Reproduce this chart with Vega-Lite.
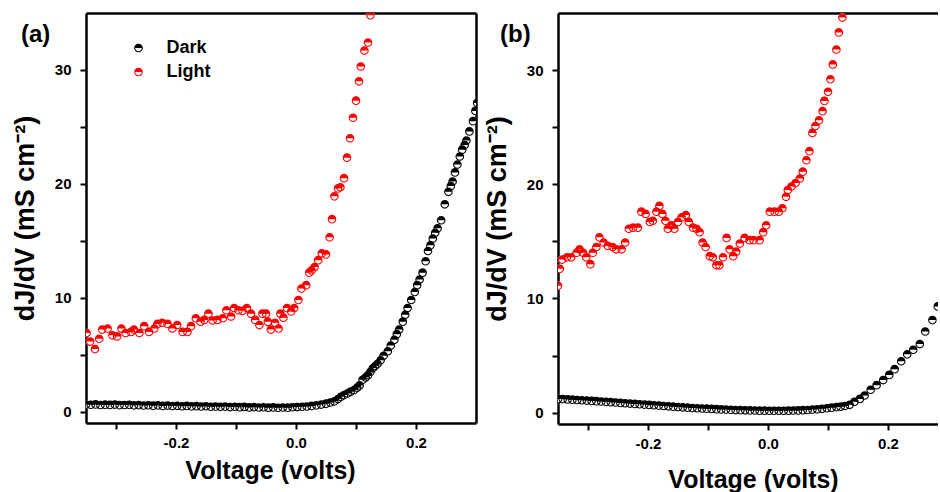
{
  "$schema": "https://vega.github.io/schema/vega-lite/v6.json",
  "padding": {"left": 11, "top": 13, "right": 0, "bottom": 0},
  "background": "white",
  "config": {
    "font": "Liberation Sans",
    "view": {"stroke": null},
    "axis": {"grid": false, "domainColor": "#000", "domainWidth": 2.5, "tickColor": "#000", "tickWidth": 2, "tickSize": 6, "labelColor": "#000", "labelFontSize": 15, "labelFontWeight": "bold", "labelPadding": 6, "titleColor": "#000", "titleFontWeight": "bold", "labelFlush": false, "labelOverlap": false},
    "axisX": {"titleFontSize": 25, "titlePadding": 8},
    "axisY": {"titleFontSize": 27, "titlePadding": 15, "labelPadding": 9},
    "legend": {"orient": "none", "title": null, "padding": 0, "labelFontSize": 18, "labelFontWeight": "bold", "labelColor": "#000", "symbolSize": 75, "symbolStrokeWidth": 0, "rowPadding": 6},
    "title": {"fontSize": 24, "fontWeight": "bold", "color": "#000", "anchor": "start", "frame": "group", "offset": 0}
  },
  "datasets": {
    "a": [
      {"s":"Dark","v":-0.350,"g":0.62},{"s":"Dark","v":-0.342,"g":0.60},{"s":"Dark","v":-0.334,"g":0.63},{"s":"Dark","v":-0.326,"g":0.58},{"s":"Dark","v":-0.318,"g":0.61},{"s":"Dark","v":-0.310,"g":0.59},{"s":"Dark","v":-0.302,"g":0.62},{"s":"Dark","v":-0.294,"g":0.57},{"s":"Dark","v":-0.286,"g":0.58},{"s":"Dark","v":-0.278,"g":0.60},{"s":"Dark","v":-0.270,"g":0.55},{"s":"Dark","v":-0.262,"g":0.57},{"s":"Dark","v":-0.254,"g":0.54},{"s":"Dark","v":-0.246,"g":0.56},{"s":"Dark","v":-0.238,"g":0.52},{"s":"Dark","v":-0.230,"g":0.55},{"s":"Dark","v":-0.222,"g":0.50},{"s":"Dark","v":-0.214,"g":0.53},{"s":"Dark","v":-0.206,"g":0.49},{"s":"Dark","v":-0.198,"g":0.51},{"s":"Dark","v":-0.190,"g":0.47},{"s":"Dark","v":-0.182,"g":0.50},{"s":"Dark","v":-0.174,"g":0.46},{"s":"Dark","v":-0.166,"g":0.48},{"s":"Dark","v":-0.158,"g":0.45},{"s":"Dark","v":-0.150,"g":0.47},{"s":"Dark","v":-0.142,"g":0.43},{"s":"Dark","v":-0.134,"g":0.45},{"s":"Dark","v":-0.126,"g":0.42},{"s":"Dark","v":-0.118,"g":0.44},{"s":"Dark","v":-0.110,"g":0.40},{"s":"Dark","v":-0.102,"g":0.43},{"s":"Dark","v":-0.094,"g":0.39},{"s":"Dark","v":-0.086,"g":0.41},{"s":"Dark","v":-0.078,"g":0.37},{"s":"Dark","v":-0.070,"g":0.40},{"s":"Dark","v":-0.062,"g":0.36},{"s":"Dark","v":-0.054,"g":0.38},{"s":"Dark","v":-0.046,"g":0.35},{"s":"Dark","v":-0.038,"g":0.37},{"s":"Dark","v":-0.030,"g":0.34},{"s":"Dark","v":-0.022,"g":0.36},{"s":"Dark","v":-0.014,"g":0.35},{"s":"Dark","v":-0.006,"g":0.38},{"s":"Dark","v":0.002,"g":0.40},{"s":"Dark","v":0.010,"g":0.43},{"s":"Dark","v":0.018,"g":0.45},{"s":"Dark","v":0.026,"g":0.50},{"s":"Dark","v":0.034,"g":0.55},{"s":"Dark","v":0.042,"g":0.62},{"s":"Dark","v":0.050,"g":0.70},{"s":"Dark","v":0.057,"g":0.80},{"s":"Dark","v":0.064,"g":0.9},{"s":"Dark","v":0.070,"g":1.1},{"s":"Dark","v":0.075,"g":1.3},{"s":"Dark","v":0.080,"g":1.45},{"s":"Dark","v":0.086,"g":1.6},{"s":"Dark","v":0.091,"g":1.75},{"s":"Dark","v":0.097,"g":1.9},{"s":"Dark","v":0.102,"g":2.1},{"s":"Dark","v":0.106,"g":2.3},{"s":"Dark","v":0.111,"g":2.8},{"s":"Dark","v":0.116,"g":3.0},{"s":"Dark","v":0.120,"g":3.2},{"s":"Dark","v":0.124,"g":3.5},{"s":"Dark","v":0.128,"g":3.8},{"s":"Dark","v":0.132,"g":4.0},{"s":"Dark","v":0.136,"g":4.2},{"s":"Dark","v":0.141,"g":4.5},{"s":"Dark","v":0.146,"g":4.9},{"s":"Dark","v":0.153,"g":5.3},{"s":"Dark","v":0.158,"g":5.8},{"s":"Dark","v":0.164,"g":6.3},{"s":"Dark","v":0.168,"g":6.8},{"s":"Dark","v":0.172,"g":7.2},{"s":"Dark","v":0.178,"g":7.9},{"s":"Dark","v":0.182,"g":8.5},{"s":"Dark","v":0.186,"g":9.1},{"s":"Dark","v":0.192,"g":9.8},{"s":"Dark","v":0.198,"g":10.5},{"s":"Dark","v":0.202,"g":11.1},{"s":"Dark","v":0.206,"g":11.6},{"s":"Dark","v":0.211,"g":12.2},{"s":"Dark","v":0.216,"g":13.2},{"s":"Dark","v":0.220,"g":14.1},{"s":"Dark","v":0.224,"g":14.6},{"s":"Dark","v":0.228,"g":15.2},{"s":"Dark","v":0.232,"g":15.7},{"s":"Dark","v":0.236,"g":16.1},{"s":"Dark","v":0.242,"g":16.8},{"s":"Dark","v":0.248,"g":18.2},{"s":"Dark","v":0.254,"g":19.3},{"s":"Dark","v":0.258,"g":19.8},{"s":"Dark","v":0.261,"g":20.2},{"s":"Dark","v":0.265,"g":21.0},{"s":"Dark","v":0.269,"g":21.7},{"s":"Dark","v":0.273,"g":22.4},{"s":"Dark","v":0.277,"g":23.0},{"s":"Dark","v":0.281,"g":23.4},{"s":"Dark","v":0.284,"g":23.8},{"s":"Dark","v":0.289,"g":24.6},{"s":"Dark","v":0.295,"g":25.5},{"s":"Dark","v":0.299,"g":26.4},{"s":"Dark","v":0.302,"g":27.1},
      {"s":"Light","v":-0.349,"g":6.9},{"s":"Light","v":-0.343,"g":6.15},{"s":"Light","v":-0.335,"g":5.5},{"s":"Light","v":-0.328,"g":6.4},{"s":"Light","v":-0.323,"g":7.2},{"s":"Light","v":-0.314,"g":7.3},{"s":"Light","v":-0.306,"g":6.7},{"s":"Light","v":-0.298,"g":6.6},{"s":"Light","v":-0.291,"g":7.3},{"s":"Light","v":-0.284,"g":6.9},{"s":"Light","v":-0.275,"g":7.0},{"s":"Light","v":-0.270,"g":7.2},{"s":"Light","v":-0.261,"g":6.9},{"s":"Light","v":-0.253,"g":7.5},{"s":"Light","v":-0.245,"g":7.0},{"s":"Light","v":-0.236,"g":7.3},{"s":"Light","v":-0.231,"g":7.7},{"s":"Light","v":-0.223,"g":7.8},{"s":"Light","v":-0.214,"g":7.7},{"s":"Light","v":-0.206,"g":7.3},{"s":"Light","v":-0.198,"g":7.6},{"s":"Light","v":-0.189,"g":7.0},{"s":"Light","v":-0.181,"g":7.0},{"s":"Light","v":-0.175,"g":7.5},{"s":"Light","v":-0.167,"g":8.2},{"s":"Light","v":-0.159,"g":7.9},{"s":"Light","v":-0.153,"g":8.05},{"s":"Light","v":-0.146,"g":8.6},{"s":"Light","v":-0.139,"g":8.0},{"s":"Light","v":-0.131,"g":8.05},{"s":"Light","v":-0.122,"g":8.2},{"s":"Light","v":-0.116,"g":8.9},{"s":"Light","v":-0.108,"g":8.35},{"s":"Light","v":-0.103,"g":9.1},{"s":"Light","v":-0.096,"g":8.9},{"s":"Light","v":-0.089,"g":8.85},{"s":"Light","v":-0.082,"g":9.1},{"s":"Light","v":-0.075,"g":8.6},{"s":"Light","v":-0.068,"g":8.05},{"s":"Light","v":-0.061,"g":7.6},{"s":"Light","v":-0.056,"g":8.6},{"s":"Light","v":-0.050,"g":8.6},{"s":"Light","v":-0.047,"g":7.9},{"s":"Light","v":-0.042,"g":7.2},{"s":"Light","v":-0.035,"g":7.8},{"s":"Light","v":-0.029,"g":7.3},{"s":"Light","v":-0.026,"g":8.6},{"s":"Light","v":-0.021,"g":8.25},{"s":"Light","v":-0.015,"g":9.1},{"s":"Light","v":-0.008,"g":8.8},{"s":"Light","v":-0.003,"g":9.1},{"s":"Light","v":0.004,"g":9.8},{"s":"Light","v":0.009,"g":10.8},{"s":"Light","v":0.017,"g":11.1},{"s":"Light","v":0.022,"g":12.2},{"s":"Light","v":0.026,"g":12.4},{"s":"Light","v":0.031,"g":12.7},{"s":"Light","v":0.037,"g":13.3},{"s":"Light","v":0.043,"g":13.9},{"s":"Light","v":0.050,"g":13.8},{"s":"Light","v":0.056,"g":15.3},{"s":"Light","v":0.060,"g":16.9},{"s":"Light","v":0.064,"g":18.9},{"s":"Light","v":0.070,"g":19.6},{"s":"Light","v":0.074,"g":19.7},{"s":"Light","v":0.080,"g":20.5},{"s":"Light","v":0.085,"g":22.3},{"s":"Light","v":0.090,"g":24.0},{"s":"Light","v":0.095,"g":25.8},{"s":"Light","v":0.100,"g":27.3},{"s":"Light","v":0.105,"g":29.0},{"s":"Light","v":0.108,"g":30.3},{"s":"Light","v":0.114,"g":31.7},{"s":"Light","v":0.120,"g":32.4},{"s":"Light","v":0.124,"g":34.8}
    ],
    "b": [
      {"s":"Dark","v":-0.350,"g":1.20},{"s":"Dark","v":-0.342,"g":1.18},{"s":"Dark","v":-0.334,"g":1.15},{"s":"Dark","v":-0.326,"g":1.13},{"s":"Dark","v":-0.318,"g":1.10},{"s":"Dark","v":-0.310,"g":1.08},{"s":"Dark","v":-0.302,"g":1.05},{"s":"Dark","v":-0.294,"g":1.02},{"s":"Dark","v":-0.286,"g":1.00},{"s":"Dark","v":-0.278,"g":0.97},{"s":"Dark","v":-0.270,"g":0.94},{"s":"Dark","v":-0.262,"g":0.91},{"s":"Dark","v":-0.254,"g":0.88},{"s":"Dark","v":-0.246,"g":0.85},{"s":"Dark","v":-0.238,"g":0.82},{"s":"Dark","v":-0.230,"g":0.79},{"s":"Dark","v":-0.222,"g":0.76},{"s":"Dark","v":-0.214,"g":0.73},{"s":"Dark","v":-0.206,"g":0.70},{"s":"Dark","v":-0.198,"g":0.67},{"s":"Dark","v":-0.190,"g":0.64},{"s":"Dark","v":-0.182,"g":0.61},{"s":"Dark","v":-0.174,"g":0.58},{"s":"Dark","v":-0.166,"g":0.55},{"s":"Dark","v":-0.158,"g":0.52},{"s":"Dark","v":-0.150,"g":0.49},{"s":"Dark","v":-0.142,"g":0.46},{"s":"Dark","v":-0.134,"g":0.43},{"s":"Dark","v":-0.126,"g":0.40},{"s":"Dark","v":-0.118,"g":0.38},{"s":"Dark","v":-0.110,"g":0.36},{"s":"Dark","v":-0.102,"g":0.34},{"s":"Dark","v":-0.094,"g":0.32},{"s":"Dark","v":-0.086,"g":0.30},{"s":"Dark","v":-0.078,"g":0.28},{"s":"Dark","v":-0.070,"g":0.26},{"s":"Dark","v":-0.062,"g":0.24},{"s":"Dark","v":-0.054,"g":0.22},{"s":"Dark","v":-0.046,"g":0.21},{"s":"Dark","v":-0.038,"g":0.20},{"s":"Dark","v":-0.030,"g":0.19},{"s":"Dark","v":-0.022,"g":0.18},{"s":"Dark","v":-0.014,"g":0.17},{"s":"Dark","v":-0.006,"g":0.17},{"s":"Dark","v":0.002,"g":0.16},{"s":"Dark","v":0.010,"g":0.16},{"s":"Dark","v":0.018,"g":0.16},{"s":"Dark","v":0.026,"g":0.16},{"s":"Dark","v":0.034,"g":0.17},{"s":"Dark","v":0.042,"g":0.18},{"s":"Dark","v":0.050,"g":0.19},{"s":"Dark","v":0.058,"g":0.21},{"s":"Dark","v":0.066,"g":0.23},{"s":"Dark","v":0.074,"g":0.26},{"s":"Dark","v":0.082,"g":0.29},{"s":"Dark","v":0.090,"g":0.33},{"s":"Dark","v":0.098,"g":0.38},{"s":"Dark","v":0.106,"g":0.43},{"s":"Dark","v":0.114,"g":0.48},{"s":"Dark","v":0.121,"g":0.52},{"s":"Dark","v":0.128,"g":0.58},{"s":"Dark","v":0.136,"g":0.68},{"s":"Dark","v":0.144,"g":0.95},{"s":"Dark","v":0.153,"g":1.2},{"s":"Dark","v":0.161,"g":1.5},{"s":"Dark","v":0.171,"g":2.0},{"s":"Dark","v":0.181,"g":2.4},{"s":"Dark","v":0.192,"g":2.85},{"s":"Dark","v":0.202,"g":3.3},{"s":"Dark","v":0.211,"g":3.8},{"s":"Dark","v":0.222,"g":4.5},{"s":"Dark","v":0.232,"g":5.1},{"s":"Dark","v":0.242,"g":5.5},{"s":"Dark","v":0.253,"g":6.0},{"s":"Dark","v":0.262,"g":7.1},{"s":"Dark","v":0.274,"g":8.1},{"s":"Dark","v":0.283,"g":9.3},
      {"s":"Light","v":-0.350,"g":11.1},{"s":"Light","v":-0.347,"g":12.6},{"s":"Light","v":-0.343,"g":13.4},{"s":"Light","v":-0.335,"g":13.6},{"s":"Light","v":-0.328,"g":13.6},{"s":"Light","v":-0.319,"g":14.0},{"s":"Light","v":-0.314,"g":14.3},{"s":"Light","v":-0.308,"g":14.0},{"s":"Light","v":-0.303,"g":13.6},{"s":"Light","v":-0.296,"g":13.0},{"s":"Light","v":-0.292,"g":14.0},{"s":"Light","v":-0.286,"g":14.5},{"s":"Light","v":-0.281,"g":15.35},{"s":"Light","v":-0.274,"g":14.9},{"s":"Light","v":-0.267,"g":14.6},{"s":"Light","v":-0.259,"g":14.5},{"s":"Light","v":-0.253,"g":14.3},{"s":"Light","v":-0.244,"g":14.3},{"s":"Light","v":-0.238,"g":14.9},{"s":"Light","v":-0.232,"g":16.1},{"s":"Light","v":-0.225,"g":16.2},{"s":"Light","v":-0.217,"g":16.2},{"s":"Light","v":-0.211,"g":17.6},{"s":"Light","v":-0.204,"g":17.4},{"s":"Light","v":-0.197,"g":16.7},{"s":"Light","v":-0.192,"g":16.8},{"s":"Light","v":-0.186,"g":17.6},{"s":"Light","v":-0.181,"g":18.1},{"s":"Light","v":-0.176,"g":17.4},{"s":"Light","v":-0.171,"g":16.8},{"s":"Light","v":-0.167,"g":16.1},{"s":"Light","v":-0.161,"g":16.4},{"s":"Light","v":-0.156,"g":16.1},{"s":"Light","v":-0.150,"g":16.7},{"s":"Light","v":-0.144,"g":17.1},{"s":"Light","v":-0.137,"g":17.3},{"s":"Light","v":-0.132,"g":16.7},{"s":"Light","v":-0.125,"g":16.2},{"s":"Light","v":-0.119,"g":16.1},{"s":"Light","v":-0.114,"g":15.8},{"s":"Light","v":-0.109,"g":14.9},{"s":"Light","v":-0.104,"g":14.5},{"s":"Light","v":-0.097,"g":13.7},{"s":"Light","v":-0.092,"g":13.6},{"s":"Light","v":-0.086,"g":12.9},{"s":"Light","v":-0.081,"g":12.9},{"s":"Light","v":-0.075,"g":13.6},{"s":"Light","v":-0.069,"g":15.3},{"s":"Light","v":-0.064,"g":14.3},{"s":"Light","v":-0.058,"g":13.7},{"s":"Light","v":-0.053,"g":14.1},{"s":"Light","v":-0.047,"g":14.8},{"s":"Light","v":-0.039,"g":15.3},{"s":"Light","v":-0.031,"g":15.1},{"s":"Light","v":-0.024,"g":15.1},{"s":"Light","v":-0.014,"g":15.1},{"s":"Light","v":-0.008,"g":15.8},{"s":"Light","v":-0.003,"g":16.4},{"s":"Light","v":0.003,"g":17.6},{"s":"Light","v":0.011,"g":17.6},{"s":"Light","v":0.018,"g":17.6},{"s":"Light","v":0.024,"g":17.9},{"s":"Light","v":0.030,"g":18.9},{"s":"Light","v":0.033,"g":19.5},{"s":"Light","v":0.039,"g":19.8},{"s":"Light","v":0.046,"g":20.1},{"s":"Light","v":0.053,"g":20.5},{"s":"Light","v":0.058,"g":21.1},{"s":"Light","v":0.064,"g":22.1},{"s":"Light","v":0.069,"g":22.9},{"s":"Light","v":0.074,"g":24.5},{"s":"Light","v":0.079,"g":25.1},{"s":"Light","v":0.085,"g":25.6},{"s":"Light","v":0.091,"g":26.4},{"s":"Light","v":0.094,"g":27.3},{"s":"Light","v":0.100,"g":28.1},{"s":"Light","v":0.104,"g":29.2},{"s":"Light","v":0.108,"g":30.5},{"s":"Light","v":0.114,"g":31.8},{"s":"Light","v":0.118,"g":33.3},{"s":"Light","v":0.124,"g":34.6}
    ]
  },
  "spacing": 7,
  "hconcat": [
    {
      "width": 390,
      "height": 410,
      "title": {"text": "(a)", "dx": -65, "dy": 38},
      "data": {"name": "a"},
      "resolve": {"axis": {"x": "independent", "y": "independent"}},
      "layer": [
        {
          "mark": {"type": "point", "shape": "circle", "filled": true, "color": "white", "opacity": 1, "size": 75, "strokeWidth": 0, "clip": true},
          "encoding": {
            "x": {"field": "v", "type": "quantitative", "scale": {"domain": [-0.35, 0.3], "nice": false, "zero": false}, "axis": {"title": "Voltage (volts)", "titleX": 184, "values": [-0.3, -0.2, -0.1, 0, 0.1, 0.2], "labelExpr": "abs(round(datum.value*10)) % 2 == 0 ? (datum.value < -0.001 ? '-' : '') + format(abs(datum.value), '.1f') : ''"}},
            "y": {"field": "g", "type": "quantitative", "scale": {"domain": [-1, 35], "nice": false, "zero": false}, "axis": {"title": "dJ/dV (mS cm⁻²)", "values": [0, 5, 10, 15, 20, 25, 30], "labelExpr": "datum.value % 10 == 0 ? datum.label : ''"}}
          }
        },
        {
          "mark": {"type": "point", "filled": true, "opacity": 1, "size": 75, "strokeWidth": 0, "clip": true},
          "encoding": {
            "x": {"field": "v", "type": "quantitative", "axis": {"orient": "top", "labels": false, "ticks": false, "title": null}},
            "y": {"field": "g", "type": "quantitative", "axis": {"orient": "right", "labels": false, "ticks": false, "title": null}},
            "color": {"field": "s", "type": "nominal", "scale": {"domain": ["Dark", "Light"], "range": ["#000000", "#ff0000"]}, "legend": {"legendX": 43.5, "legendY": 26, "labelOffset": 19}},
            "shape": {"field": "s", "type": "nominal", "scale": {"domain": ["Dark", "Light"], "range": ["M-1,0A1,1,0,0,1,1,0A1,1,0,0,1,-1,0L-0.76,0A0.76,0.76,0,0,0,0.76,0Z", "M-1,0A1,1,0,0,1,1,0A1,1,0,0,1,-1,0L-0.76,0A0.76,0.76,0,0,0,0.76,0Z"]}, "legend": {"legendX": 43.5, "legendY": 26, "labelOffset": 19}}
          }
        }
      ]
    },
    {
      "width": 380,
      "height": 411,
      "title": {"text": "(b)", "dx": -58, "dy": 38},
      "data": {"name": "b"},
      "resolve": {"axis": {"x": "independent"}},
      "layer": [
        {
          "mark": {"type": "point", "shape": "circle", "filled": true, "color": "white", "opacity": 1, "size": 75, "strokeWidth": 0, "clip": true},
          "encoding": {
            "x": {"field": "v", "type": "quantitative", "scale": {"domain": [-0.35, 0.2833], "nice": false, "zero": false}, "axis": {"title": "Voltage (volts)", "titlePadding": 16, "titleX": 195, "values": [-0.3, -0.2, -0.1, 0, 0.1, 0.2], "labelExpr": "abs(round(datum.value*10)) % 2 == 0 ? (datum.value < -0.001 ? '-' : '') + format(abs(datum.value), '.1f') : ''"}},
            "y": {"field": "g", "type": "quantitative", "scale": {"domain": [-1, 35], "nice": false, "zero": false}, "axis": {"title": "dJ/dV (mS cm⁻²)", "values": [0, 5, 10, 15, 20, 25, 30], "labelExpr": "datum.value % 10 == 0 ? datum.label : ''"}}
          }
        },
        {
          "mark": {"type": "point", "filled": true, "opacity": 1, "size": 75, "strokeWidth": 0, "clip": true},
          "encoding": {
            "x": {"field": "v", "type": "quantitative", "axis": {"orient": "top", "labels": false, "ticks": false, "title": null}},
            "y": {"field": "g", "type": "quantitative"},
            "color": {"field": "s", "type": "nominal", "scale": {"domain": ["Dark", "Light"], "range": ["#000000", "#ff0000"]}, "legend": {"legendX": 41.5, "legendY": 22.5, "labelOffset": 20}},
            "shape": {"field": "s", "type": "nominal", "scale": {"domain": ["Dark", "Light"], "range": ["M-1,0A1,1,0,0,0,1,0A1,1,0,0,0,-1,0L-0.76,0A0.76,0.76,0,0,1,0.76,0Z", "M-1,0A1,1,0,0,1,1,0A1,1,0,0,1,-1,0L-0.76,0A0.76,0.76,0,0,0,0.76,0Z"]}, "legend": {"legendX": 41.5, "legendY": 22.5, "labelOffset": 20}}
          }
        }
      ]
    }
  ]
}
